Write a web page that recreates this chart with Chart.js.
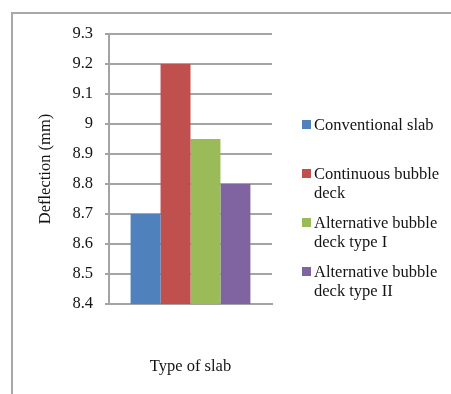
<!DOCTYPE html>
<html>
<head>
<meta charset="utf-8">
<script src="https://cdn.jsdelivr.net/npm/chart.js@4/dist/chart.umd.min.js"></script>
<style>
  html, body { margin: 0; padding: 0; background: #fff; }
  #wrap { position: relative; width: 451px; height: 394px; overflow: hidden; background: #fff; }
  #frame { position: absolute; left: 11px; top: 12px; right: -10px; bottom: -10px;
           border-top: 2px solid #a8a8a8; border-left: 2px solid #a8a8a8; }
  #chart { position: absolute; left: 0; top: 0; }
  #legend { position: absolute; left: 302px; top: 0; }
  .item { position: absolute; left: 0; display: flex; align-items: flex-start;
          font: 16.5px/19px "Liberation Serif", "Times New Roman", serif; color: #141414; }
  .sw { width: 9px; height: 9px; margin: 5px 3px 0 0; flex: none; }
  .txt { width: 146px; }
</style>
</head>
<body>
<div id="wrap">
  <div id="frame"></div>
  <canvas id="chart" width="451" height="394"></canvas>
  <div id="legend"></div>
</div>
<script>
// Mid-span deflection for each slab type (mm)
const categories = [''];
const seriesNames = [
  'Conventional slab',
  'Continuous bubble deck',
  'Alternative bubble deck type I',
  'Alternative bubble deck type II'
];
const deflections = [8.7, 9.2, 8.95, 8.8];
const yTickValues = [8.4, 8.5, 8.6, 8.7, 8.8, 8.9, 9.0, 9.1, 9.2, 9.3];
const xTitle = 'Type of slab';
const yTitle = 'Deflection (mm)';

const seriesColors = ['#4f81bd', '#c0504d', '#9bbb59', '#8064a2'];
const serif = '"Liberation Serif", "Times New Roman", serif';
const gridGray = '#a4a4a4';
const textColor = '#141414';

const chart = new Chart(document.getElementById('chart'), {
  type: 'bar',
  data: {
    labels: categories,
    datasets: seriesNames.map((name, i) => ({
      label: name,
      data: [deflections[i]],
      backgroundColor: seriesColors[i],
      borderWidth: 0,
      categoryPercentage: 0.735,
      barPercentage: 1.0
    }))
  },
  options: {
    responsive: false,
    animation: false,
    layout: { padding: { left: 0, top: 34, right: 179, bottom: 0 } },
    plugins: { legend: { display: false }, tooltip: { enabled: false } },
    scales: {
      x: {
        grid: { display: false },
        border: { display: true, color: gridGray, width: 2 },
        ticks: { display: false },
        title: {
          display: true, text: xTitle, color: textColor,
          font: { family: serif, size: 16.5 },
          padding: { top: 0, bottom: 17 }
        },
        afterFit: s => { s.height = 90; }
      },
      y: {
        min: 8.4, max: 9.3,
        afterBuildTicks: s => { s.ticks = yTickValues.map(v => ({ value: v })); },
        grid: { color: gridGray, lineWidth: 2, tickLength: 4, drawTicks: true },
        border: { display: true, color: gridGray, width: 2 },
        ticks: {
          color: textColor, padding: 12,
          font: { family: serif, size: 16.5 },
          callback: v => String(Number(Number(v).toFixed(1)))
        },
        title: {
          display: true, text: yTitle, color: textColor,
          font: { family: serif, size: 16.5 },
          padding: { top: 36, bottom: 0 }
        },
        afterFit: s => { s.width = 109; }
      }
    }
  }
});

// Legend entries built from the chart's own datasets, evenly spaced down the right side
const legend = document.getElementById('legend');
chart.data.datasets.forEach((ds, i) => {
  const item = document.createElement('div');
  item.className = 'item';
  item.style.top = (115 + i * 49) + 'px';
  const sw = document.createElement('span');
  sw.className = 'sw';
  sw.style.background = ds.backgroundColor;
  const txt = document.createElement('span');
  txt.className = 'txt';
  txt.textContent = ds.label;
  item.appendChild(sw);
  item.appendChild(txt);
  legend.appendChild(item);
});
</script>
</body>
</html>
